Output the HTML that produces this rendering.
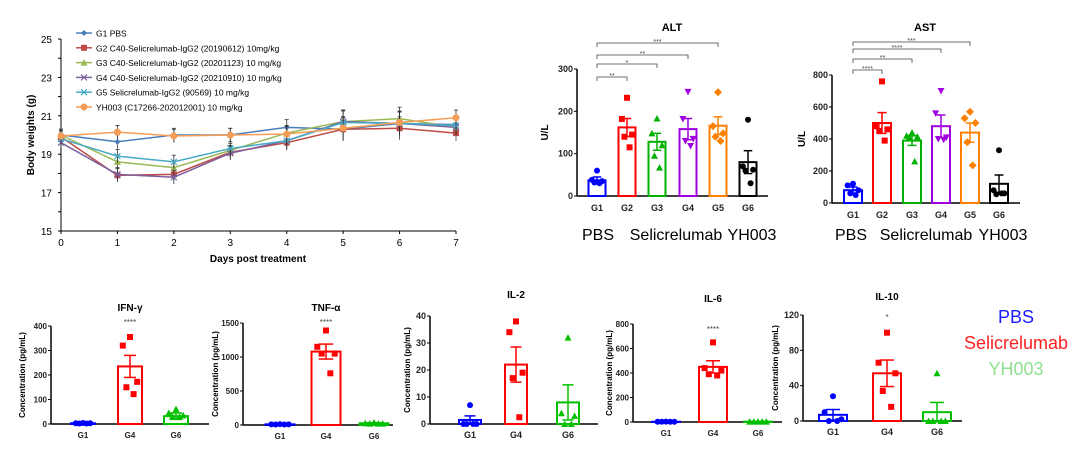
<!DOCTYPE html>
<html><head><meta charset="utf-8"><style>
body{margin:0;background:#fff;width:1080px;height:459px;overflow:hidden}
svg{display:block;font-family:"Liberation Sans",Arial,sans-serif}
</style></head><body>
<svg id="fig" width="1080" height="459" viewBox="0 0 1080 459"></svg>
<script>
// ---- Body weight line chart data ----
const days=[0,1,2,3,4,5,6,7];
const bwNames=["G1 PBS","G2 C40-Selicrelumab-IgG2 (20190612) 10mg/kg","G3 C40-Selicrelumab-IgG2 (20201123) 10 mg/kg","G4 C40-Selicrelumab-IgG2 (20210910) 10 mg/kg","G5 Selicrelumab-IgG2 (90569) 10 mg/kg","YH003 (C17266-202012001) 10 mg/kg"];
const bwG1=[20.0,19.65,20.0,20.0,20.4,20.3,20.6,20.55];
const bwG2=[19.9,17.9,17.95,19.1,19.6,20.3,20.35,20.1];
const bwG3=[20.0,18.6,18.3,19.2,20.1,20.7,20.85,20.4];
const bwG4=[19.6,17.95,17.8,19.05,19.7,20.7,20.6,20.4];
const bwG5=[19.8,18.9,18.6,19.3,19.7,20.65,20.6,20.5];
const bwYH=[19.95,20.15,19.95,20.0,20.05,20.35,20.65,20.9];
const bwErr=[0.3,0.35,0.35,0.35,0.4,0.6,0.6,0.4];
const bwTicks=[15,17,19,21,23,25];
// ---- ALT / AST ----
const groups=["G1","G2","G3","G4","G5","G6"];
const altMean=[37,162,128,158,166,80];
const altSem=[8,21,20,25,21,27];
const altPts=[[60,38,35,32,30],[232,182,145,140,115],[183,148,120,95,67],[246,182,135,130,118],[245,165,148,140,130],[180,70,62,60,30]];
const altTicks=[0,100,200,300];
const astMean=[80,500,390,480,440,120];
const astSem=[20,65,30,70,60,55];
const astPts=[[120,110,80,60,50],[760,480,460,450,390],[440,420,415,410,260],[700,560,410,400,395],[570,530,500,380,235],[330,80,60,55,60]];
const astTicks=[0,200,400,600,800];
// ---- Cytokines ----
const cyGroups=["G1","G4","G6"];
const ifnMean=[3,235,32];const ifnSem=[1,45,13];
const ifnPts=[[4,3,3,2,2],[355,320,172,150,122],[60,45,35,30,30]];
const ifnTicks=[0,100,200,300,400];
const tnfMean=[10,1080,25];const tnfSem=[3,110,8];
const tnfPts=[[12,10,10,8,8],[1390,1150,1050,1050,760],[35,25,20,20,20]];
const tnfTicks=[0,500,1000,1500];
const il2Mean=[1.5,22,8];const il2Sem=[1.5,6.5,6.5];
const il2Pts=[[7,0,0,0,0],[38,34,19,17,2.5],[32,4,3,0,0]];
const il2Ticks=[0,10,20,30,40];
const il6Mean=[2,450,3];const il6Sem=[1,50,1];
const il6Pts=[[3,2,2,2,2],[650,440,420,390,380],[3,3,3,3,3]];
const il6Ticks=[0,200,400,600,800];
const il10Mean=[7,54,10];const il10Sem=[6,15,11];
const il10Pts=[[28,10,2,0,0],[100,66,54,34,16],[54,0,0,0,0]];
const il10Ticks=[0,40,80,120];

const NS="http://www.w3.org/2000/svg";
const svg=document.getElementById('fig');
function mk(tag,attrs,parent,text){const e=document.createElementNS(NS,tag);for(const k in attrs)e.setAttribute(k,attrs[k]);if(text!==undefined)e.textContent=text;(parent||svg).appendChild(e);return e;}

// ===== Line chart =====
(function(){
 const g=mk('g',{});
 
 
 const x=d=>61+d*(456-61)/7, y=v=>231-(v-15)*(231-39)/10;
 mk('line',{x1:61,y1:39,x2:61,y2:231,stroke:'#000','stroke-width':1},g);
 mk('line',{x1:61,y1:231,x2:456,y2:231,stroke:'#000','stroke-width':1},g);
 for(let v=15;v<=25;v++){mk('line',{x1:58,x2:61,y1:y(v),y2:y(v),stroke:'#000'},g);}
 bwTicks.forEach(t=>{const e=mk('text',{x:52,y:y(t)+4,'font-size':10,'text-anchor':'end'},g,t);});
 days.forEach(d=>{mk('line',{x1:x(d),x2:x(d),y1:231,y2:234,stroke:'#000'},g);const e=mk('text',{x:x(d),y:246,'font-size':10,'text-anchor':'middle'},g,d);});
 const yt=mk('text',{x:0,y:0,'font-size':10,'font-weight':'bold','text-anchor':'middle',transform:'translate(34,135) rotate(-90)'},g,'Body weights (g)');
 
 const xt=mk('text',{x:258,y:262,'font-size':10,'font-weight':'bold','text-anchor':'middle'},g,'Days post treatment');
 
 const series=[bwG1,bwG2,bwG3,bwG4,bwG5,bwYH];
 const cols=['#4a7ebb','#be4b48','#98b954','#7d60a0','#46aac5','#f59d56'];
 const marks=['diamond','square','tri','x','x','circle'];
 function marker(type,cx,cy,c,p){
  if(type==='diamond')mk('path',{d:`M${cx},${cy-3}L${cx+3},${cy}L${cx},${cy+3}L${cx-3},${cy}Z`,fill:c},p);
  else if(type==='square')mk('rect',{x:cx-3,y:cy-3,width:6,height:6,fill:c},p);
  else if(type==='tri')mk('path',{d:`M${cx},${cy-3.5}L${cx+3.5},${cy+3}L${cx-3.5},${cy+3}Z`,fill:c},p);
  else if(type==='x'){mk('path',{d:`M${cx-3},${cy-3}L${cx+3},${cy+3}M${cx-3},${cy+3}L${cx+3},${cy-3}`,stroke:c,'stroke-width':1.2},p);}
  else mk('circle',{cx,cy,r:3.5,fill:c},p);
 }
 series.forEach((s,i)=>{
  const sg=mk('g',{},g);
  
  
  s.forEach((v,j)=>{mk('line',{x1:x(days[j]),x2:x(days[j]),y1:y(v-bwErr[j]),y2:y(v+bwErr[j]),stroke:'#333','stroke-width':0.8},sg);
   mk('line',{x1:x(days[j])-2,x2:x(days[j])+2,y1:y(v+bwErr[j]),y2:y(v+bwErr[j]),stroke:'#333','stroke-width':0.8},sg);});
  mk('polyline',{points:s.map((v,j)=>x(days[j])+','+y(v)).join(' '),fill:'none',stroke:cols[i],'stroke-width':1.5},sg);
  s.forEach((v,j)=>marker(marks[i],x(days[j]),y(v),cols[i],sg));
  const ly=33+i*14.8;
  const lg=mk('g',{},g);
  
  
  mk('line',{x1:76,x2:92,y1:ly,y2:ly,stroke:cols[i],'stroke-width':1.5},lg);
  marker(marks[i],84,ly,cols[i],lg);
  mk('text',{x:96,y:ly+3.5,'font-size':8.5},lg,bwNames[i]);
 });
})();

// ===== generic bar/scatter panel =====
function panel(o){
 const g=mk('g',{});
 
 
 const maxT=o.ticks[o.ticks.length-1];
 const y=v=>o.y0-(v/maxT)*(o.y0-o.yTop);
 mk('line',{x1:o.ax,x2:o.ax,y1:o.yTop,y2:o.y0,stroke:'#000','stroke-width':1.5},g);
 mk('line',{x1:o.ax,x2:o.axEnd,y1:o.y0,y2:o.y0,stroke:'#000','stroke-width':1.5},g);
 o.ticks.forEach(t=>{mk('line',{x1:o.ax-3,x2:o.ax,y1:y(t),y2:y(t),stroke:'#000'},g);
  const e=mk('text',{x:o.ax-4,y:y(t)+3,'font-size':o.tfs||9,'font-weight':'bold','text-anchor':'end',fill:'#222'},g,t);
  });
 const t=mk('text',{x:o.titleX,y:o.titleY,'font-size':o.titleFs||10,'font-weight':'bold','text-anchor':'middle'},g,o.title);
 
 const yl=mk('text',{x:0,y:0,'font-size':o.ylFs||8,'font-weight':'bold','text-anchor':'middle',transform:`translate(${o.ylX},${(o.y0+o.yTop)/2}) rotate(-90)`},g,o.ylabel);
 
 o.cats.forEach((c,i)=>{
  const cx=o.centers[i],col=o.colors[i],bw=o.bw;
  const bg=mk('g',{},g);
  
  
  mk('rect',{x:cx-bw/2,y:y(o.mean[i]),width:bw,height:o.y0-y(o.mean[i]),fill:'#fff',stroke:col,'stroke-width':2},bg);
  const top=y(o.mean[i]+o.sem[i]),bot=y(o.mean[i]-o.sem[i]);
  mk('line',{x1:cx,x2:cx,y1:top,y2:bot,stroke:col,'stroke-width':1.5},bg);
  mk('line',{x1:cx-bw/4,x2:cx+bw/4,y1:top,y2:top,stroke:col,'stroke-width':1.5},bg);
  mk('line',{x1:cx-bw/4,x2:cx+bw/4,y1:bot,y2:bot,stroke:col,'stroke-width':1.5},bg);
  o.pts[i].forEach((v,k)=>{
   const px=cx+[0,-bw*0.3,bw*0.3,-bw*0.15,bw*0.15][k],py=y(v),m=o.markers[i],s=3;
   if(m==='sq')mk('rect',{x:px-s,y:py-s,width:2*s,height:2*s,fill:col},bg);
   else if(m==='up')mk('path',{d:`M${px},${py-s-0.5}L${px+s+0.5},${py+s}L${px-s-0.5},${py+s}Z`,fill:col},bg);
   else if(m==='dn')mk('path',{d:`M${px},${py+s+0.5}L${px+s+0.5},${py-s}L${px-s-0.5},${py-s}Z`,fill:col},bg);
   else if(m==='di')mk('path',{d:`M${px},${py-s-1}L${px+s+1},${py}L${px},${py+s+1}L${px-s-1},${py}Z`,fill:col},bg);
   else mk('circle',{cx:px,cy:py,r:s,fill:col},bg);
  });
  const e=mk('text',{x:cx,y:o.y0+o.labDy,'font-size':o.labFs||9,'font-weight':'bold','text-anchor':'middle',fill:'#222'},g,c);
  
 });
 (o.brackets||[]).forEach(b=>{
  const x1=o.centers[0],x2=o.centers[b[0]],by=b[1];
  const bk=mk('g',{},g);
  
  
  mk('path',{d:`M${x1},${by+4}V${by}H${x2}V${by+4}`,fill:'none',stroke:'#444','stroke-width':0.8},bk);
  mk('text',{x:(x1+x2)/2,y:by+1,'font-size':7,'text-anchor':'middle',fill:'#444'},bk,b[2]);
 });
 (o.stars||[]).forEach(s=>{const e=mk('text',{x:o.centers[s[0]],y:s[1],'font-size':8,'text-anchor':'middle',fill:'#444'},g,s[2]);
  });
 (o.groupLabels||[]).forEach(s=>{const e=mk('text',{x:s[0],y:s[1],'font-size':16,'text-anchor':'middle'},g,s[2]);
  });
 return g;
}
const sixCols=['#0000ff','#ff0000','#00b000','#a000e0','#ff8000','#000'];
const sixMarks=['ci','sq','up','dn','di','ci'];
panel({name:'alt-chart',title:'ALT',titleX:672,titleY:31,titleFs:11,ylabel:'U/L',ylX:548,ylFs:10,ax:577,axEnd:768,y0:196,yTop:69,ticks:altTicks,
 cats:groups,centers:[597,627,657,688,718,748],bw:17,colors:sixCols,markers:sixMarks,mean:altMean,sem:altSem,pts:altPts,labDy:15,
 brackets:[[1,77,'**'],[2,64,'*'],[3,55,'**'],[4,43,'***']],
 groupLabels:[[598,240,'PBS'],[676,240,'Selicrelumab'],[752,240,'YH003']]});
panel({name:'ast-chart',title:'AST',titleX:925,titleY:31,titleFs:11,ylabel:'U/L',ylX:805,ylFs:10,ax:832,axEnd:1020,y0:203,yTop:75,ticks:astTicks,
 cats:groups,centers:[853,882,912,941,970,999],bw:18,colors:sixCols,markers:sixMarks,mean:astMean,sem:astSem,pts:astPts,labDy:15,
 brackets:[[1,70,'****'],[2,59,'**'],[3,49,'****'],[4,42,'***']],
 groupLabels:[[851,240,'PBS'],[926,240,'Selicrelumab'],[1003,240,'YH003']]});
const cyCols=['#0000ff','#ff0000','#00c000'];
const cyMarks=['ci','sq','up'];
panel({name:'ifn-gamma-chart',title:'IFN-γ',titleX:130,titleY:311,ylabel:'Concentration (pg/mL)',ylX:25,ax:51,axEnd:209,y0:424,yTop:326,ticks:ifnTicks,
 cats:cyGroups,centers:[83,130,176],bw:24,colors:cyCols,markers:cyMarks,mean:ifnMean,sem:ifnSem,pts:ifnPts,labDy:14,labFs:8,tfs:8,stars:[[1,325,'****']]});
panel({name:'tnf-alpha-chart',title:'TNF-α',titleX:326,titleY:311,ylabel:'Concentration (pg/mL)',ylX:218,ax:243,axEnd:393,y0:425,yTop:323,ticks:tnfTicks,
 cats:cyGroups,centers:[280,326,374],bw:29,colors:cyCols,markers:cyMarks,mean:tnfMean,sem:tnfSem,pts:tnfPts,labDy:14,labFs:8,tfs:8,stars:[[1,325,'****']]});
panel({name:'il2-chart',title:'IL-2',titleX:516,titleY:298,ylabel:'Concentration (pg/mL)',ylX:410,ax:430,axEnd:598,y0:424,yTop:316,ticks:il2Ticks,
 cats:cyGroups,centers:[470,516,568],bw:22,colors:cyCols,markers:cyMarks,mean:il2Mean,sem:il2Sem,pts:il2Pts,labDy:14,tfs:9});
panel({name:'il6-chart',title:'IL-6',titleX:713,titleY:302,ylabel:'Concentration (pg/mL)',ylX:612,ax:633,axEnd:782,y0:422,yTop:324,ticks:il6Ticks,
 cats:cyGroups,centers:[666,713,758],bw:28,colors:cyCols,markers:cyMarks,mean:il6Mean,sem:il6Sem,pts:il6Pts,labDy:14,labFs:8,tfs:8,stars:[[1,332,'****']]});
panel({name:'il10-chart',title:'IL-10',titleX:887,titleY:300,ylabel:'Concentration (pg/mL)',ylX:778,ax:803,axEnd:962,y0:421,yTop:315,ticks:il10Ticks,
 cats:cyGroups,centers:[833,887,937],bw:28,colors:cyCols,markers:cyMarks,mean:il10Mean,sem:il10Sem,pts:il10Pts,labDy:14,tfs:9,stars:[[1,320,'*']]});
// legend
[['PBS','#1a1aff',323],['Selicrelumab','#ff2020',349],['YH003','#90e090',375]].forEach(l=>{
 const e=mk('text',{x:1016,y:l[2],'font-size':18,'text-anchor':'middle',fill:l[1]},svg,l[0]);
 
 
});
</script>
</body></html>
